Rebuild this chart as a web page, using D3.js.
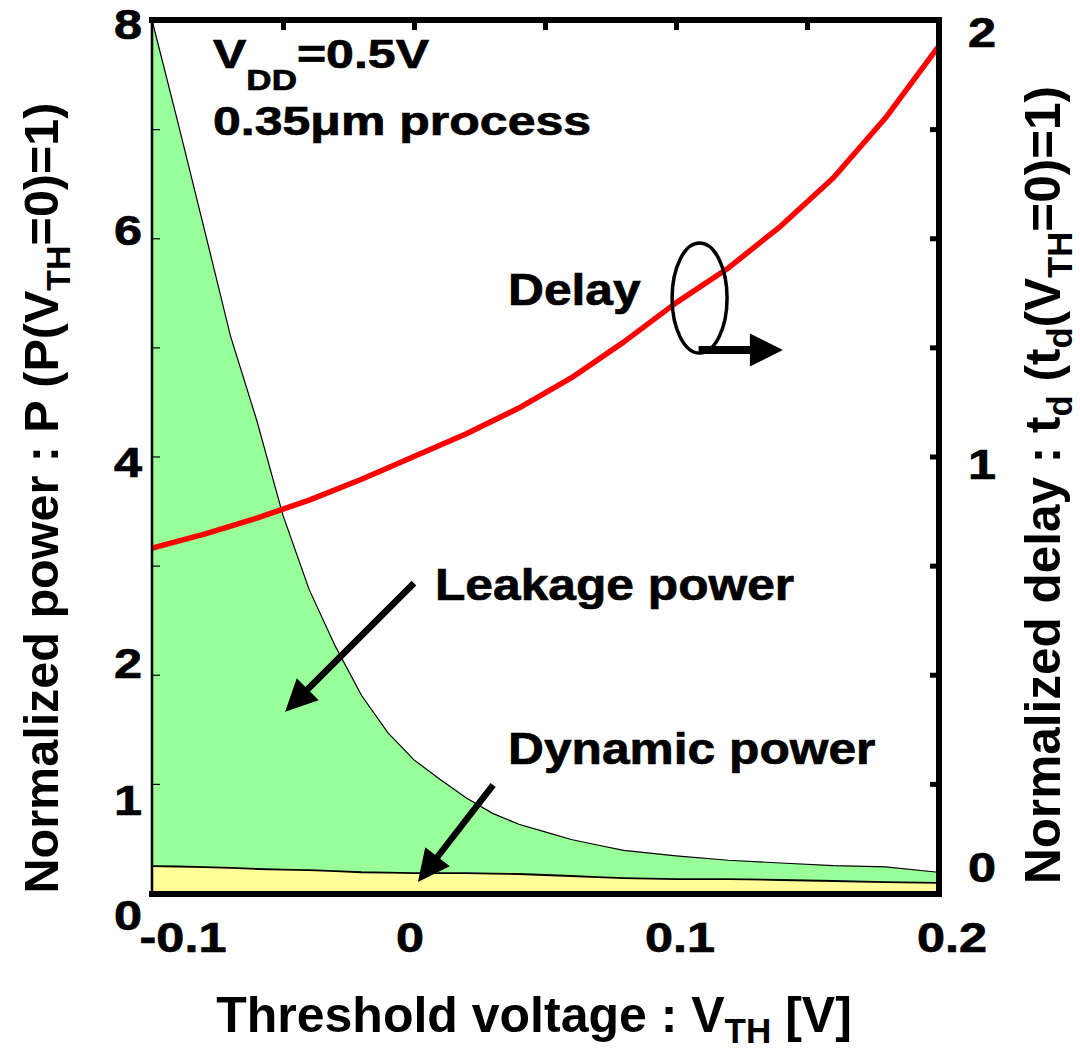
<!DOCTYPE html>
<html>
<head>
<meta charset="utf-8">
<script src="https://cdn.jsdelivr.net/npm/d3@7"></script>
<style>
  html, body { margin: 0; padding: 0; background: #fff; }
  svg text { font-family: "Liberation Sans", Arial, Helvetica, sans-serif; font-weight: bold; fill: #000; }
  svg text.heavy { stroke: #000; stroke-width: 0.7px; }
</style>
</head>
<body>
<svg id="chart" width="1080" height="1050"></svg>
<script>
// ---- data -------------------------------------------------------------
// threshold voltage samples for the delay curve [V]
const vthDelay = [-0.1, -0.08, -0.06, -0.04, -0.02, 0, 0.02, 0.04, 0.06, 0.08,
                  0.1, 0.12, 0.14, 0.16, 0.18, 0.2];
// normalized delay t_d (t_d(VTH=0)=1)
const delayNorm = [0.790, 0.822, 0.859, 0.900, 0.948, 1.000, 1.052, 1.111, 1.180, 1.262,
                   1.352, 1.432, 1.528, 1.638, 1.776, 1.938];

// threshold voltage samples for the power curves [V]
const vthPower = [-0.1, -0.09, -0.08, -0.07, -0.06, -0.05, -0.04, -0.03, -0.02, -0.01,
                  0, 0.01, 0.02, 0.03, 0.04, 0.05, 0.06, 0.07, 0.08, 0.1,
                  0.12, 0.14, 0.16, 0.18, 0.2];
// dynamic power (normalized)
const dynamicPower = [0.247, 0.243, 0.238, 0.230, 0.220, 0.215, 0.210, 0.200, 0.190, 0.186,
                      0.183, 0.183, 0.183, 0.178, 0.174, 0.165, 0.156, 0.146, 0.137, 0.128,
                      0.128, 0.119, 0.110, 0.100, 0.092];
// total power = dynamic + leakage (normalized)
const totalPower = [8.00, 7.05, 6.08, 5.10, 4.33, 3.46, 2.78, 2.26, 1.81, 1.47,
                    1.22, 1.04, 0.87, 0.73, 0.63, 0.56, 0.49, 0.44, 0.39, 0.34,
                    0.30, 0.275, 0.25, 0.24, 0.19];

// axis ticks and labels
const xTopTicks = [-0.05, 0, 0.05, 0.1, 0.15];
const xTickLabels = [-0.1, 0, 0.1, 0.2];
const powerTicks = [0, 1, 2, 3, 4, 5, 6, 7, 8];
const powerTickLabels = [0, 1, 2, 4, 6, 8];
const delayTicks = [0, 0.25, 0.5, 0.75, 1, 1.25, 1.5, 1.75, 2];
const delayTickLabels = [0, 1, 2];

// ---- layout -----------------------------------------------------------
const plot = { left: 152, right: 938, top: 20, bottom: 893 };
const svg = d3.select("#chart");

const x = d3.scaleLinear().domain([-0.1, 0.2]).range([plot.left, plot.right]);
const yPow = d3.scaleLinear().domain([0, 8]).range([plot.bottom, plot.top]);
const yDel = d3.scaleLinear().domain([0, 2]).range([plot.bottom, plot.top]);

// text with optional subscript parts; sx stretches along the text direction
function richText(parent, px, py, parts, o) {
  const size = o.size;
  let tf = `translate(${px},${py})`;
  if (o.rotate) tf += ` rotate(${o.rotate})`;
  tf += ` scale(${o.sx || 1},${o.sy || 1})`;
  const t = parent.append("text")
    .attr("transform", tf)
    .attr("font-size", size)
    .attr("text-anchor", o.anchor || "start");
  if (o.cls) t.attr("class", o.cls);
  let shifted = 0;
  parts.forEach(p => {
    const part = typeof p === "string" ? { t: p } : p;
    const ts = t.append("tspan").text(part.t);
    if (part.sub) {
      ts.attr("font-size", size * (o.subScale || 0.7));
      const d = (o.subShift || 0.3) * size;
      ts.attr("dy", d - shifted);
      shifted = d;
    } else if (shifted) {
      ts.attr("dy", -shifted);
      shifted = 0;
    }
  });
  return t;
}

// arrow with a filled triangular head
function arrow(parent, x1, y1, x2, y2, shaftW, headLen, headW) {
  const dx = x2 - x1, dy = y2 - y1;
  const len = Math.hypot(dx, dy);
  const ux = dx / len, uy = dy / len;
  const bx = x2 - ux * headLen, by = y2 - uy * headLen;
  parent.append("line")
    .attr("x1", x1).attr("y1", y1)
    .attr("x2", bx + ux * 2).attr("y2", by + uy * 2)
    .attr("stroke", "#000").attr("stroke-width", shaftW);
  const px = -uy * headW / 2, py = ux * headW / 2;
  parent.append("polygon")
    .attr("points", [[x2, y2], [bx + px, by + py], [bx - px, by - py]].map(p => p.join(",")).join(" "))
    .attr("fill", "#000");
}

// ---- power areas ------------------------------------------------------
const powerRows = vthPower.map((v, i) => ({ v, dyn: dynamicPower[i], tot: totalPower[i] }));

svg.append("path")
  .datum(powerRows)
  .attr("d", d3.area().x(d => x(d.v)).y0(d => yPow(d.dyn)).y1(d => yPow(d.tot)))
  .attr("fill", "#99ff99");

svg.append("path")
  .datum(powerRows)
  .attr("d", d3.area().x(d => x(d.v)).y0(yPow(0)).y1(d => yPow(d.dyn)))
  .attr("fill", "#ffff99");

svg.append("path")
  .datum(powerRows)
  .attr("d", d3.line().x(d => x(d.v)).y(d => yPow(d.tot)))
  .attr("fill", "none").attr("stroke", "#000").attr("stroke-width", 1.2);

svg.append("path")
  .datum(powerRows)
  .attr("d", d3.line().x(d => x(d.v)).y(d => yPow(d.dyn)))
  .attr("fill", "none").attr("stroke", "#000").attr("stroke-width", 1.8);

// ---- delay curve ------------------------------------------------------
const delayRows = vthDelay.map((v, i) => ({ v, d: delayNorm[i] }));
svg.append("path")
  .datum(delayRows)
  .attr("d", d3.line().x(d => x(d.v)).y(d => yDel(d.d)))
  .attr("fill", "none").attr("stroke", "#ff0000").attr("stroke-width", 5.5)
  .attr("stroke-linejoin", "round");

// ---- axes ticks -------------------------------------------------------
const gTop = svg.append("g").attr("transform", `translate(0,${plot.top})`)
  .call(d3.axisTop(x).tickValues(xTopTicks).tickSizeInner(-10).tickSizeOuter(0).tickFormat(""));
gTop.select(".domain").remove();
gTop.selectAll(".tick line").attr("stroke", "#000").attr("stroke-width", 5);

const gLeft = svg.append("g").attr("transform", `translate(${plot.left},0)`)
  .call(d3.axisLeft(yPow).tickValues(powerTicks).tickSizeInner(-8).tickSizeOuter(0).tickFormat(""));
gLeft.select(".domain").remove();
gLeft.selectAll(".tick line").attr("stroke", "#000").attr("stroke-width", 1.2);

const gRight = svg.append("g").attr("transform", `translate(${plot.right + 1},0)`)
  .call(d3.axisRight(yDel).tickValues(delayTicks).tickSizeInner(-9).tickSizeOuter(0).tickFormat(""));
gRight.select(".domain").remove();
gRight.selectAll(".tick line").attr("stroke", "#000").attr("stroke-width", 5);

// ---- frame ------------------------------------------------------------
const frame = svg.append("g").attr("stroke", "#000").attr("stroke-linecap", "square");
frame.append("line").attr("x1", plot.left).attr("x2", plot.left)
  .attr("y1", plot.top).attr("y2", plot.bottom).attr("stroke-width", 2.5);
frame.append("line").attr("x1", plot.left).attr("x2", plot.right + 1)
  .attr("y1", plot.top).attr("y2", plot.top).attr("stroke-width", 6);
frame.append("line").attr("x1", plot.right + 1).attr("x2", plot.right + 1)
  .attr("y1", plot.top).attr("y2", plot.bottom + 1).attr("stroke-width", 6);
frame.append("line").attr("x1", plot.left).attr("x2", plot.right + 1)
  .attr("y1", plot.bottom + 1).attr("y2", plot.bottom + 1).attr("stroke-width", 6);

// ---- tick labels ------------------------------------------------------
const tickFont = 42, tickStretch = 1.2;
const powerLabelShift = { 0: 22, 1: 16, 2: -12, 4: 5, 6: -8, 8: 4 };
powerTickLabels.forEach(v => {
  richText(svg, plot.left - 10, yPow(v) + powerLabelShift[v] + 0.358 * tickFont, [String(v)],
    { size: tickFont, anchor: "end", sx: tickStretch, cls: "heavy" });
});
const delayLabelShift = { 0: -26, 1: 7, 2: 12 };
delayTickLabels.forEach(v => {
  richText(svg, plot.right + 30, yDel(v) + delayLabelShift[v] + 0.358 * tickFont, [String(v)],
    { size: tickFont, anchor: "start", sx: tickStretch, cls: "heavy" });
});
const xLabelShift = { "-0.1": 31, "0": -4, "0.1": 4, "0.2": 14 };
xTickLabels.forEach(v => {
  richText(svg, x(v) + xLabelShift[String(v)], 952, [String(v)],
    { size: tickFont, anchor: "middle", sx: tickStretch, cls: "heavy" });
});

// ---- axis titles ------------------------------------------------------
richText(svg, 534, 1032, ["Threshold voltage : V", { t: "TH", sub: true }, " [V]"],
  { size: 50, anchor: "middle", subShift: 0.22 });
richText(svg, 58, 498,
  ["Normalized power : P (P(V", { t: "TH", sub: true }, "=0)=1)"],
  { size: 48.5, anchor: "middle", rotate: -90, subShift: 0.25 });
richText(svg, 1060, 485,
  ["Normalized delay : t", { t: "d", sub: true }, " (t", { t: "d", sub: true }, "(V", { t: "TH", sub: true }, "=0)=1)"],
  { size: 49.5, anchor: "middle", rotate: -90, subShift: 0.25 });

// ---- annotations ------------------------------------------------------
const noteFont = 44, noteStretch = 1.13;
richText(svg, 213, 68, ["V", { t: "DD", sub: true }, "=0.5V"],
  { size: 41, sx: 1.22, subShift: 0.54, cls: "heavy" });
richText(svg, 213, 135, ["0.35\u03bcm process"], { size: 41, sx: 1.22, cls: "heavy" });
richText(svg, 508, 305, ["Delay"], { size: noteFont, sx: noteStretch, cls: "heavy" });
richText(svg, 435, 600, ["Leakage power"], { size: noteFont, sx: noteStretch, cls: "heavy" });
richText(svg, 508, 764, ["Dynamic power"], { size: noteFont, sx: noteStretch, cls: "heavy" });

// ellipse marking the delay curve, with an arrow toward the right axis
const ell = { cx: x(0.109), cy: yDel(1.363), rx: 27.5, ry: 55 };
svg.append("ellipse")
  .attr("cx", ell.cx).attr("cy", ell.cy).attr("rx", ell.rx).attr("ry", ell.ry)
  .attr("fill", "none").attr("stroke", "#000").attr("stroke-width", 3.5);
arrow(svg, ell.cx - 1, ell.cy + ell.ry - 3, x(0.1408), ell.cy + ell.ry - 3, 8, 33, 33);

// leakage and dynamic power pointers
arrow(svg, x(0.0), yPow(2.84), x(-0.0492), yPow(1.66), 6.5, 32, 31);
arrow(svg, x(0.0302), yPow(0.99), x(0.0015), yPow(0.1), 6.5, 32, 31);
</script>
</body>
</html>
